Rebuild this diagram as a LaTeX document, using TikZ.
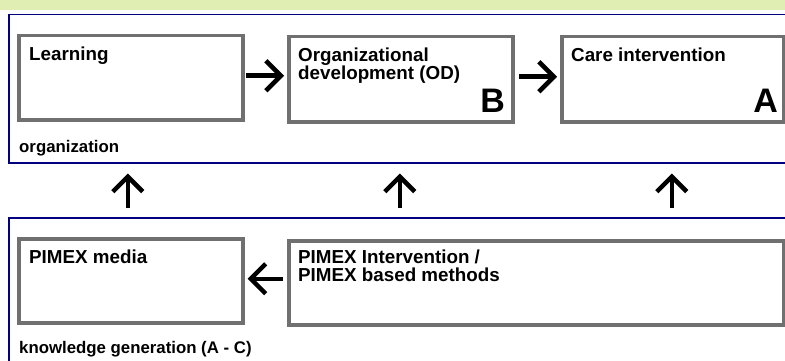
\documentclass[tikz,border=0pt]{standalone}
\usepackage{fontspec}
\setmainfont{Liberation Sans}
\usetikzlibrary{arrows.meta}
\definecolor{bandgreen}{RGB}{224,238,180}
\definecolor{framenavy}{RGB}{0,0,128}
\definecolor{boxgray}{RGB}{112,112,112}
\begin{document}
\begin{tikzpicture}[x=1pt,y=-1pt,
  frame/.style={draw=framenavy, line width=1.5pt, rectangle, inner sep=0pt, anchor=north west},
  stagebox/.style={draw=boxgray, line width=3.5pt, fill=white, rectangle, inner sep=0pt, anchor=north west},
  lbl/.style={font=\fontsize{18.8}{18}\selectfont\bfseries, anchor=base west, inner sep=0pt, align=left},
  outerlbl/.style={font=\fontsize{16.8}{18}\selectfont\bfseries, anchor=base west, inner sep=0pt},
  big/.style={font=\fontsize{34}{34}\selectfont\bfseries, anchor=base east, inner sep=0pt},
  flow/.style={line width=4.5pt, -{Straight Barb[length=15pt,width=30pt]}}]
\useasboundingbox (0,0) rectangle (785,361);
\fill[white] (0,0) rectangle (785,361);
\clip (0,0) rectangle (785,361);
\fill[bandgreen] (0,0) rectangle (785,10);
% outer frames
\node[frame, minimum width=800pt, minimum height=148pt] (org) at (8,14) {};
\node[frame, minimum width=800pt, minimum height=200pt] (know) at (8,217) {};
% inner boxes
\node[stagebox, minimum width=224pt, minimum height=84pt] (learn) at (17,34) {};
\node[stagebox, minimum width=224pt, minimum height=85pt] (od) at (287,35) {};
\node[stagebox, minimum width=222pt, minimum height=85pt] (care) at (560,35) {};
\node[stagebox, minimum width=224pt, minimum height=84pt] (media) at (17,237) {};
\node[stagebox, minimum width=495pt, minimum height=84pt] (inter) at (287,239) {};
% texts
\node[lbl] (tlearn) at (29,61) {Learning};
\node[lbl] (tod) at (298,80) {Organizational\\development (OD)};
\node[lbl] (tcare) at (571,62) {Care intervention};
\node[lbl] (tmedia) at (29,263) {PIMEX media};
\node[lbl] (tinter) at (298,281) {PIMEX Intervention /\\PIMEX based methods};
\node[big] (tb) at (505,112) {B};
\node[big] (ta) at (778,112) {A};
\node[outerlbl] (torg) at (19,152) {organization};
\node[outerlbl] (tknow) at (19,353) {knowledge generation (A - C)};
% horizontal arrows
\draw[flow, shorten <=1pt, shorten >=3pt] ([yshift=2pt]learn.east) -- ([yshift=2pt]learn.east -| od.west);
\draw[flow, shorten <=4pt, shorten >=3pt] ([yshift=2.5pt]od.east) -- ([yshift=2.5pt]od.east -| care.west);
\draw[flow, shorten <=4pt, shorten >=3pt] ([yshift=2pt]media.east -| inter.west) -- ([yshift=2pt]media.east);
% vertical arrows
\draw[flow, shorten <=9pt, shorten >=10pt] ([xshift=-3pt]media.north |- know.north) -- ([xshift=-3pt]learn.south |- org.south);
\draw[flow, shorten <=9pt, shorten >=10pt] ([xshift=-1pt]od.south |- know.north) -- ([xshift=-1pt]od.south |- org.south);
\draw[flow, shorten <=9pt, shorten >=10pt] ([xshift=-1pt]care.south |- know.north) -- ([xshift=-1pt]care.south |- org.south);
\end{tikzpicture}
\end{document}
